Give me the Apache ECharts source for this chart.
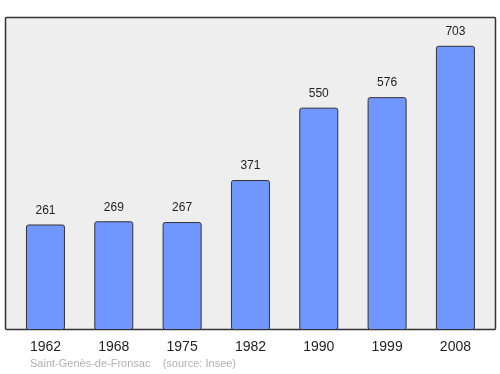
<!DOCTYPE html>
<html><head><meta charset="utf-8">
<script src="https://cdn.jsdelivr.net/npm/echarts@6/dist/echarts.min.js"></script>
<style>html,body{margin:0;padding:0;background:#fff}#c{width:500px;height:374px}</style>
</head><body><div id="c"></div>
<script>
const categories = ['1962','1968','1975','1982','1990','1999','2008'];
const population = [261,269,267,371,550,576,703];
const sourceText = 'Saint-Genès-de-Fronsac    (source: Insee)';

const chart = echarts.init(document.getElementById('c'), null, {renderer:'canvas'});
chart.setOption({
  animation:false,
  graphic:[
    {type:'rect', z:-10, shape:{x:5.5,y:17.5,width:490,height:312,r:1}, style:{fill:'#eeeeee',stroke:'#333',lineWidth:1.5}},
    {type:'text', left:30, top:358, style:{text:sourceText, fill:'#b0b0b0', font:'11px "Liberation Sans", Arial, sans-serif'}}
  ],
  grid:{left:11.3, width:478.3, top:17.5, bottom:44, containLabel:false},
  xAxis:{type:'category', data:categories, axisTick:{show:false}, axisLine:{show:false},
    axisLabel:{color:'#222', fontSize:14, margin:10, fontFamily:'"Liberation Sans", Arial, sans-serif'}},
  yAxis:{type:'value', min:0, max:773, show:false, splitLine:{show:false}},
  series:[{type:'bar', data:population, barWidth:39,
    itemStyle:{color:'#7096ff', borderColor:'#333', borderWidth:1, borderRadius:2},
    label:{show:true, position:'top', distance:8, color:'#222', fontSize:12, fontFamily:'"Liberation Sans", Arial, sans-serif'}}]
});
</script></body></html>
